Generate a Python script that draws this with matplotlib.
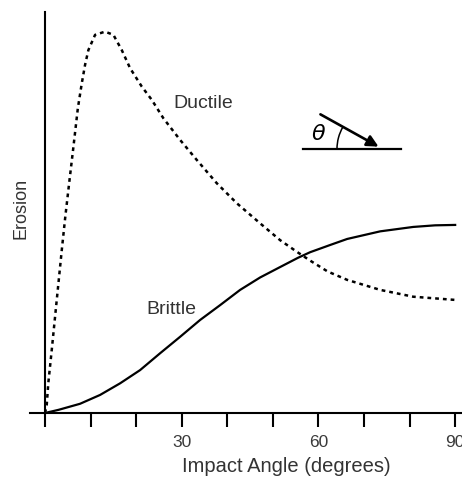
import matplotlib
matplotlib.use('Agg')
import matplotlib.pyplot as plt
from matplotlib.patches import Arc

plt.rcParams['font.family'] = ['Liberation Sans', 'DejaVu Sans']

# values (angle in degrees, erosion in relative units)
ductile_angle = [0, 0.37, 0.72, 1.47, 2.57, 3.67, 4.45, 5.3, 6.15, 7.2,
                 8.06, 8.78, 9.51, 10.98, 13.17, 15.0, 16.84, 18.66, 21.23,
                 23.42, 25.97, 29.64, 33.30, 37.69, 42.09, 47.20, 51.59,
                 55.26, 58.18, 62.0, 66.30, 73.55, 80.79, 90]
ductile_erosion = [0, 0.02, 0.075, 0.157, 0.282, 0.406, 0.490, 0.574, 0.656,
                   0.760, 0.822, 0.868, 0.905, 0.943, 0.951, 0.943, 0.905,
                   0.860, 0.814, 0.781, 0.735, 0.681, 0.631, 0.573, 0.523,
                   0.473, 0.431, 0.402, 0.380, 0.353, 0.332, 0.307, 0.290,
                   0.282]

brittle_angle = [0, 3.0, 7.68, 12.07, 16.47, 20.86, 25.25, 29.64, 34.03,
                 38.42, 42.81, 47.20, 51.59, 55.5, 58.18, 62.57, 66.3, 73.55,
                 80.79, 85.6, 90]
brittle_erosion = [0, 0.008, 0.023, 0.045, 0.074, 0.107, 0.149, 0.190, 0.232,
                   0.269, 0.307, 0.338, 0.364, 0.387, 0.401, 0.419, 0.434,
                   0.453, 0.464, 0.468, 0.469]

xticks = [0, 10, 20, 30, 40, 50, 60, 70, 80, 90]
xticklabels = ['', '', '', '30', '', '', '60', '', '', '90']

fig = plt.figure(figsize=(4.62, 4.79), dpi=100)
W, H = 462, 479
ax = fig.add_axes([30 / W, (H - 413) / H, 432 / W, 401 / H])

ax.plot(ductile_angle, ductile_erosion, color='black', lw=1.8,
        linestyle=(0, (1.5, 1.6)))
ax.plot(brittle_angle, brittle_erosion, color='black', lw=1.6)

ax.set_xlim(-3.3, 91.5)
ax.set_ylim(0, 1.0)
for s in ['top', 'right']:
    ax.spines[s].set_visible(False)
ax.spines['left'].set_position(('data', 0))
ax.spines['left'].set_linewidth(1.5)
ax.spines['bottom'].set_linewidth(1.5)
ax.set_yticks([])
ax.set_xticks(xticks)
ax.set_xticklabels(xticklabels)
ax.tick_params(axis='x', direction='out', length=10, width=1.5,
               labelsize=12.5, labelcolor='#3a3a3a', pad=6)

fig.text(286 / W, (H - 467) / H, 'Impact Angle (degrees)', fontsize=14.5,
         color='#333333', ha='center', va='center')
fig.text(21 / W, (H - 208) / H, 'Erosion', rotation=90, fontsize=13,
         color='#333333', ha='center', va='center')
ax.text((203 - 45) / 4.555, (413 - 103) / 401, 'Ductile', fontsize=14,
        color='#333333', ha='center', va='center')
ax.text((171 - 45) / 4.555, (413 - 310) / 401, 'Brittle', fontsize=14,
        color='#333333', ha='center', va='center')

# inset sketch of the impact angle (pixel coords overlay)
ov = fig.add_axes([0, 0, 1, 1])
ov.set_xlim(0, W)
ov.set_ylim(H, 0)
ov.axis('off')
ov.plot([303, 401], [149, 149], color='black', lw=1.6)
ov.annotate('', xy=(381, 148), xytext=(318, 113),
            arrowprops=dict(arrowstyle='-|>', color='black', lw=1.9,
                            mutation_scale=17))
ov.add_patch(Arc((381, 149), 88, 88, theta1=180, theta2=210,
                 color='black', lw=1.1))
ov.text(319, 134, r'$\theta$', fontsize=16, ha='center', va='center',
        family='DejaVu Serif')

fig.savefig('out.png', dpi=100)
